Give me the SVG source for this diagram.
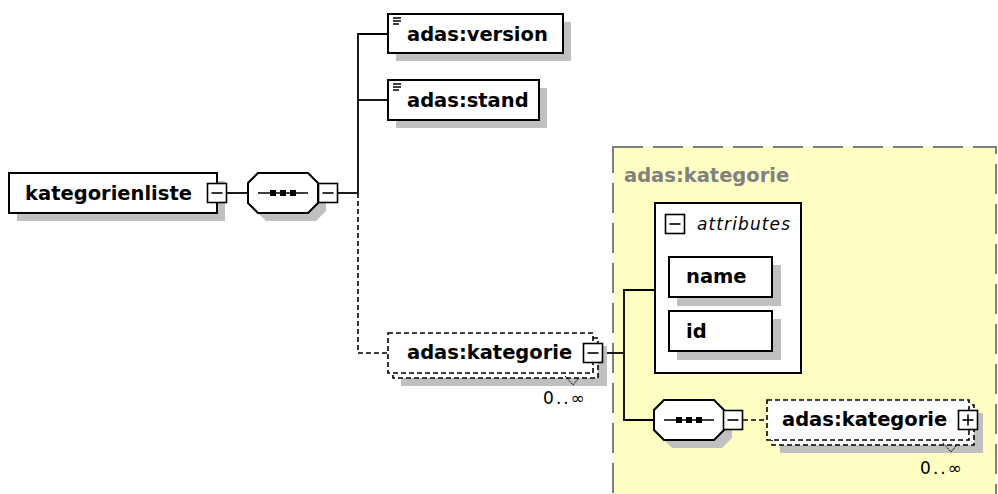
<svg xmlns="http://www.w3.org/2000/svg" width="998" height="494" viewBox="0 0 998 494">
<style>
.box{fill:#fff;stroke:#000;stroke-width:2}
.dbox{fill:#fff;stroke:#000;stroke-width:1.6;stroke-dasharray:5 3}
.sh{fill:#c0c0c0}
.ln{fill:none;stroke:#000;stroke-width:1.8}
.dl{fill:none;stroke:#000;stroke-width:1.6;stroke-dasharray:5 3}
.t{font-family:"DejaVu Sans",Verdana,sans-serif;font-weight:bold;font-size:19.5px;fill:#000}
.g{fill:#808080}
.occ{font-family:"DejaVu Sans",Verdana,sans-serif;font-size:17px;fill:#000}
.it{font-family:"DejaVu Sans",Verdana,sans-serif;font-style:italic;font-size:17px;fill:#000}
.btn{fill:#fff;stroke:#000;stroke-width:1.6}
.sym{fill:none;stroke:#000;stroke-width:1.6}
</style>
<defs>
<polygon id="oct" points="10,0 60,0 70,10 70,30 60,40 10,40 0,30 0,10"/>
<g id="minus"><rect class="btn" x="0" y="0" width="19" height="19"/><line class="sym" x1="4" y1="9.5" x2="15" y2="9.5"/></g>
<g id="plus"><rect class="btn" x="0" y="0" width="19" height="19"/><line class="sym" x1="4" y1="9.5" x2="15" y2="9.5"/><line class="sym" x1="9.5" y1="4" x2="9.5" y2="15"/></g>
<g id="seqdots"><line x1="10" y1="20" x2="60" y2="20" stroke="#000" stroke-width="1.5"/><rect x="22" y="17" width="6" height="6" fill="#000"/><rect x="32" y="17" width="6" height="6" fill="#000"/><rect x="42" y="17" width="6" height="6" fill="#000"/></g>
<g id="simple"><line x1="0" y1="0" x2="8" y2="0" stroke="#000" stroke-width="1.5"/><line x1="0" y1="3" x2="8" y2="3" stroke="#000" stroke-width="1.5"/><line x1="0" y1="6" x2="6" y2="6" stroke="#000" stroke-width="1.5"/></g>
</defs>

<g id="kategorie-complextype">
<rect x="613" y="147" width="383" height="370" fill="#ffffc4" stroke="#808080" stroke-width="2" stroke-dasharray="30 10"/>
<text class="t g" x="624" y="182">adas:kategorie</text>
</g>

<g id="connectors">
<line class="ln" x1="227" y1="193" x2="248" y2="193"/>
<line class="ln" x1="337" y1="193" x2="358" y2="193"/>
<polyline class="ln" points="388,34 358,34 358,193"/>
<line class="ln" x1="358" y1="100" x2="388" y2="100"/>
<polyline class="dl" points="358,193 358,353 388,353"/>
<line class="ln" x1="603" y1="353" x2="624" y2="353"/>
<polyline class="ln" points="655,290 624,290 624,420 654,420"/>
<line class="dl" x1="743" y1="420" x2="767" y2="420"/>
</g>

<g id="kategorienliste">
<rect class="sh" x="17" y="181" width="208" height="40"/>
<rect class="box" x="9" y="173" width="208" height="40"/>
<text class="t" x="25" y="200">kategorienliste</text>
<use href="#minus" x="207.5" y="183.5"/>
</g>

<g id="sequence1">
<use href="#oct" x="256" y="181" class="sh"/>
<use href="#oct" x="248" y="173" fill="#fff" stroke="#000" stroke-width="2"/>
<use href="#seqdots" x="248" y="173"/>
<use href="#minus" x="318.5" y="183.5"/>
</g>

<g id="adas-version">
<rect class="sh" x="396" y="22" width="175" height="39"/>
<rect class="box" x="388" y="14" width="175" height="39"/>
<use href="#simple" x="393" y="18"/>
<text class="t" x="407" y="41">adas:version</text>
</g>

<g id="adas-stand">
<rect class="sh" x="396" y="88" width="151" height="40"/>
<rect class="box" x="388" y="80" width="151" height="40"/>
<use href="#simple" x="393" y="84"/>
<text class="t" x="407" y="107">adas:stand</text>
</g>

<g id="adas-kategorie-1">
<rect class="sh" x="401" y="346" width="206" height="40"/>
<rect class="dbox" x="393" y="338" width="205" height="40"/>
<rect class="dbox" x="388" y="333" width="205" height="40"/>
<use href="#minus" x="583.5" y="343.5"/>
<polyline points="565,376 573,385 578,379" fill="none" stroke="#000" stroke-width="1" stroke-dasharray="2 1"/>
<text class="t" x="407" y="359">adas:kategorie</text>
<text class="occ" x="543" y="404" textLength="42" lengthAdjust="spacing">0..∞</text>
</g>

<g id="attributes">
<rect class="box" x="655" y="203" width="146" height="170"/>
<use href="#minus" x="665.5" y="214.5"/>
<text class="it" x="697" y="230" textLength="93" lengthAdjust="spacing">attributes</text>
</g>

<g id="attr-name">
<rect class="sh" x="677" y="265" width="104" height="41"/>
<rect class="box" x="669" y="257" width="103" height="40"/>
<text class="t" x="686" y="283">name</text>
</g>

<g id="attr-id">
<rect class="sh" x="677" y="319" width="104" height="41"/>
<rect class="box" x="669" y="311" width="103" height="40"/>
<text class="t" x="686" y="338">id</text>
</g>

<g id="sequence2">
<use href="#oct" x="662" y="408" class="sh"/>
<use href="#oct" x="654" y="400" fill="#fff" stroke="#000" stroke-width="2"/>
<use href="#seqdots" x="654" y="400"/>
<use href="#minus" x="723.5" y="410.5"/>
</g>

<g id="adas-kategorie-2">
<rect class="sh" x="780" y="413" width="203" height="40"/>
<rect class="dbox" x="772" y="405" width="202" height="40"/>
<rect class="dbox" x="767" y="400" width="202" height="40"/>
<use href="#plus" x="958.5" y="410.5"/>
<polyline points="943,443 951,452 956,446" fill="none" stroke="#000" stroke-width="1" stroke-dasharray="2 1"/>
<text class="t" x="782" y="426">adas:kategorie</text>
<text class="occ" x="920" y="474" textLength="42" lengthAdjust="spacing">0..∞</text>
</g>
</svg>
